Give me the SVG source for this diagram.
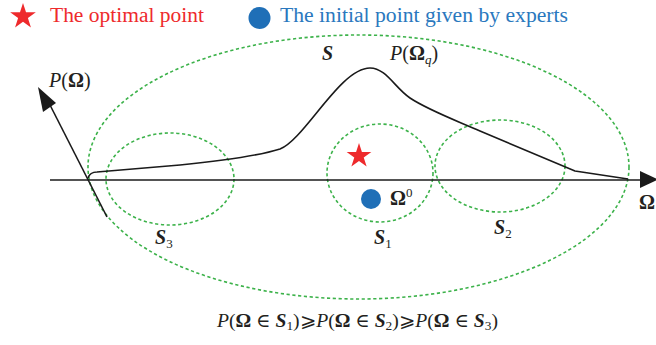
<svg xmlns="http://www.w3.org/2000/svg" width="656" height="345" viewBox="0 0 656 345">
<defs>
<style>
.zone{fill:none;stroke:#3CB24A;stroke-width:1.6;stroke-dasharray:3.2 2.6}
.axis{fill:none;stroke:#1a1a1a;stroke-width:1.6}
.curve{fill:none;stroke:#1a1a1a;stroke-width:1.6;stroke-linejoin:round}
.t{font-family:"Liberation Serif","DejaVu Serif",serif;fill:#231f20}
.lab{font-size:20px}
.bi{font-weight:bold;font-style:italic}
.it{font-style:italic}
.b{font-weight:bold}
.sub{font-size:13px}
</style>
<path id="star" d="M0,-1 L0.2245,-0.309 L0.951,-0.309 L0.363,0.118 L0.588,0.809 L0,0.382 L-0.588,0.809 L-0.363,0.118 L-0.951,-0.309 L-0.2245,-0.309 Z"/>
</defs>
<rect width="656" height="345" fill="#ffffff"/>

<g id="legend">
<use href="#star" transform="translate(23,16.5) scale(13.5)" fill="#EE2A2C"/>
<text class="t" x="50" y="22" font-size="20" style="fill:#EE2A2C" textLength="154" lengthAdjust="spacingAndGlyphs">The optimal point</text>
<circle cx="259.5" cy="18" r="11" fill="#1F6FB7"/>
<text class="t" x="280" y="22" font-size="20" style="fill:#2A78BE" textLength="288" lengthAdjust="spacingAndGlyphs">The initial point given by experts</text>
</g>

<g id="region-S">
<ellipse class="zone" cx="358.5" cy="167" rx="270.5" ry="132"/>
<text class="t lab bi" x="322" y="60">S</text>
</g>
<g id="region-S3">
<ellipse class="zone" cx="170" cy="179" rx="64" ry="46"/>
<text class="t lab bi" x="155" y="244">S<tspan class="sub" font-style="normal" font-weight="normal" dy="4">3</tspan></text>
</g>
<g id="region-S1">
<ellipse class="zone" cx="380" cy="173" rx="53" ry="49"/>
<text class="t lab bi" x="374" y="244">S<tspan class="sub" font-style="normal" font-weight="normal" dy="4">1</tspan></text>
</g>
<g id="region-S2">
<ellipse class="zone" cx="500" cy="166" rx="65" ry="46"/>
<text class="t lab bi" x="494" y="234">S<tspan class="sub" font-style="normal" font-weight="normal" dy="4">2</tspan></text>
</g>

<g id="connectors">
<line class="axis" x1="50" y1="180" x2="642" y2="180"/>
<polygon points="640,171 640,188 658,179.5" fill="#1a1a1a"/>
<line class="axis" x1="107" y1="217" x2="50" y2="105"/>
<polygon points="38,87 43,112 56,103" fill="#1a1a1a"/>
<path class="curve" d="M88,178 Q90,172 97,172 L180,165 C210,162 255,157 280,149 C305,139 340,68 370,68 C386,68 395,88 410,98 C428,110 455,120 480,131 L575,171 L628,179"/>
</g>

<g id="axis-labels">
<text class="t lab" x="49" y="87"><tspan class="it">P</tspan>(<tspan class="b">Ω</tspan>)</text>
<text class="t lab b" x="639" y="209">Ω</text>
<text class="t lab" x="390" y="60"><tspan class="it">P</tspan>(<tspan class="b">Ω</tspan><tspan class="sub it" dy="4">q</tspan><tspan dy="-4">)</tspan></text>
</g>

<g id="optimal-point">
<use href="#star" transform="translate(359,156) scale(13)" fill="#EE2A2C"/>
</g>
<g id="initial-point">
<circle cx="371" cy="199" r="10" fill="#1F6FB7"/>
<text class="t lab b" x="390" y="205">Ω<tspan class="sub" font-weight="normal" dy="-8">0</tspan></text>
</g>

<g id="formula">
<text class="t" x="217" y="327" font-size="19" textLength="281" lengthAdjust="spacingAndGlyphs"><tspan class="it">P</tspan>(<tspan class="b">Ω</tspan> ∈ <tspan class="bi">S</tspan><tspan class="sub" dy="3">1</tspan><tspan dy="-3">)⩾</tspan><tspan class="it">P</tspan>(<tspan class="b">Ω</tspan> ∈ <tspan class="bi">S</tspan><tspan class="sub" dy="3">2</tspan><tspan dy="-3">)⩾</tspan><tspan class="it">P</tspan>(<tspan class="b">Ω</tspan> ∈ <tspan class="bi">S</tspan><tspan class="sub" dy="3">3</tspan><tspan dy="-3">)</tspan></text>
</g>
</svg>
